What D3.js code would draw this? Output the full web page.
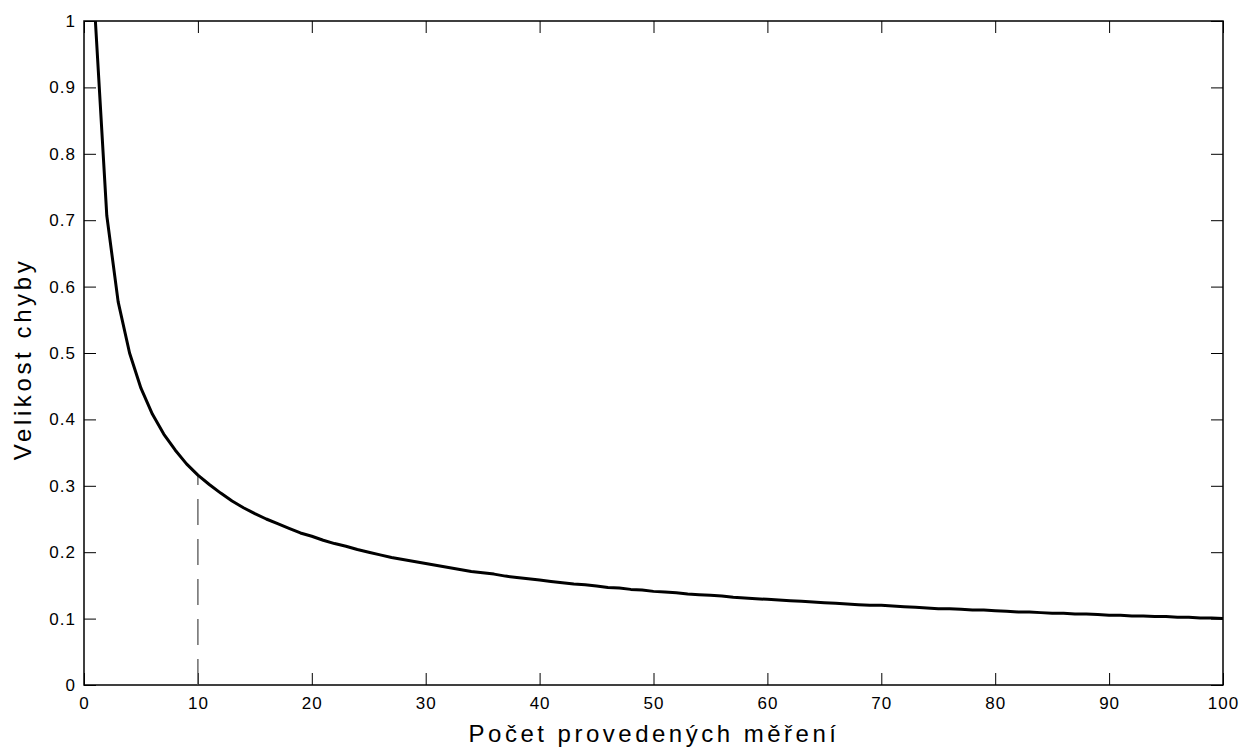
<!DOCTYPE html>
<html>
<head>
<meta charset="utf-8">
<script src="https://cdn.jsdelivr.net/npm/d3@7"></script>
<style>
  body { margin: 0; background: #fff; }
  text { font-family: "Liberation Sans", Arial, sans-serif; fill: #000; }
</style>
</head>
<body>
<div id="wrapper"></div>
<script>
// počet měření 1..100
const measurements = d3.range(1, 101)
// velikost chyby
const errorValues = [
  1.000, 0.707, 0.577, 0.500, 0.447, 0.408, 0.378, 0.354, 0.333, 0.316,
  0.302, 0.289, 0.277, 0.267, 0.258, 0.250, 0.243, 0.236, 0.229, 0.224,
  0.218, 0.213, 0.209, 0.204, 0.200, 0.196, 0.192, 0.189, 0.186, 0.183,
  0.180, 0.177, 0.174, 0.171, 0.169, 0.167, 0.164, 0.162, 0.160, 0.158,
  0.156, 0.154, 0.152, 0.151, 0.149, 0.147, 0.146, 0.144, 0.143, 0.141,
  0.140, 0.139, 0.137, 0.136, 0.135, 0.134, 0.132, 0.131, 0.130, 0.129,
  0.128, 0.127, 0.126, 0.125, 0.124, 0.123, 0.122, 0.121, 0.120, 0.120,
  0.119, 0.118, 0.117, 0.116, 0.115, 0.115, 0.114, 0.113, 0.113, 0.112,
  0.111, 0.110, 0.110, 0.109, 0.108, 0.108, 0.107, 0.107, 0.106, 0.105,
  0.105, 0.104, 0.104, 0.103, 0.103, 0.102, 0.102, 0.101, 0.101, 0.100
]
const xTicks = [0, 10, 20, 30, 40, 50, 60, 70, 80, 90, 100]
const yTicks = [0, 0.1, 0.2, 0.3, 0.4, 0.5, 0.6, 0.7, 0.8, 0.9, 1]
const markerX = 10
const markerY = 0.316
const xLabel = "Počet provedených měření"
const yLabel = "Velikost chyby"

const dataset = measurements.map((n, i) => ({ n, e: errorValues[i] }))

let dimensions = {
  width: 1248,
  height: 749,
  margin: { top: 21, right: 25, bottom: 64, left: 84 },
}
dimensions.boundedWidth = dimensions.width - dimensions.margin.left - dimensions.margin.right
dimensions.boundedHeight = dimensions.height - dimensions.margin.top - dimensions.margin.bottom

const wrapper = d3.select("#wrapper")
  .append("svg")
    .attr("width", dimensions.width)
    .attr("height", dimensions.height)
const bounds = wrapper.append("g")
  .attr("transform", `translate(${dimensions.margin.left},${dimensions.margin.top})`)

const xScale = d3.scaleLinear().domain([0, 100]).range([0, dimensions.boundedWidth])
const yScale = d3.scaleLinear().domain([0, 1]).range([dimensions.boundedHeight, 0])

// frame
bounds.append("rect")
  .attr("width", dimensions.boundedWidth)
  .attr("height", dimensions.boundedHeight)
  .attr("fill", "none")
  .attr("stroke", "#000")
  .attr("stroke-width", 1.5)

// axes with inward ticks (like MATLAB)
const tickLen = 12
const styleAxis = g => {
  g.attr("font-size", null).attr("font-family", null)
  g.select(".domain").remove()
  g.selectAll(".tick line").attr("stroke", "#000").attr("stroke-width", 1)
  g.selectAll(".tick text")
    .style("font-size", "17px")
    .style("letter-spacing", "1px")
}
bounds.append("g")
  .attr("transform", `translate(0,${dimensions.boundedHeight})`)
  .call(d3.axisBottom(xScale).tickValues(xTicks).tickSize(-tickLen).tickPadding(12).tickFormat(d3.format("d")))
  .call(styleAxis)
bounds.append("g")
  .call(d3.axisTop(xScale).tickValues(xTicks).tickSize(-tickLen).tickFormat(""))
  .call(styleAxis)
bounds.append("g")
  .call(d3.axisLeft(yScale).tickValues(yTicks).tickSize(-tickLen).tickPadding(8).tickFormat(d => d3.format("")(+d.toFixed(1))))
  .call(styleAxis)
bounds.append("g")
  .attr("transform", `translate(${dimensions.boundedWidth},0)`)
  .call(d3.axisRight(yScale).tickValues(yTicks).tickSize(-tickLen).tickFormat(""))
  .call(styleAxis)

// dashed marker at 10 measurements
bounds.append("line")
  .attr("x1", xScale(markerX)).attr("x2", xScale(markerX))
  .attr("y1", yScale(0)).attr("y2", yScale(markerY))
  .attr("stroke", "#555")
  .attr("stroke-width", 1.3)
  .attr("stroke-dasharray", "26,14")

// curve
const lineGenerator = d3.line()
  .x(d => xScale(d.n))
  .y(d => yScale(d.e))
bounds.append("path")
  .attr("d", lineGenerator(dataset))
  .attr("fill", "none")
  .attr("stroke", "#000")
  .attr("stroke-width", 3)
  .attr("stroke-linejoin", "round")

// axis titles
wrapper.append("text")
  .attr("x", 654)
  .attr("y", 741.5)
  .attr("text-anchor", "middle")
  .style("font-size", "24px")
  .style("letter-spacing", "3.5px")
  .text(xLabel)
wrapper.append("text")
  .attr("transform", `translate(31,359) rotate(-90)`)
  .attr("text-anchor", "middle")
  .style("font-size", "24px")
  .style("letter-spacing", "3.6px")
  .text(yLabel)
</script>
</body>
</html>
